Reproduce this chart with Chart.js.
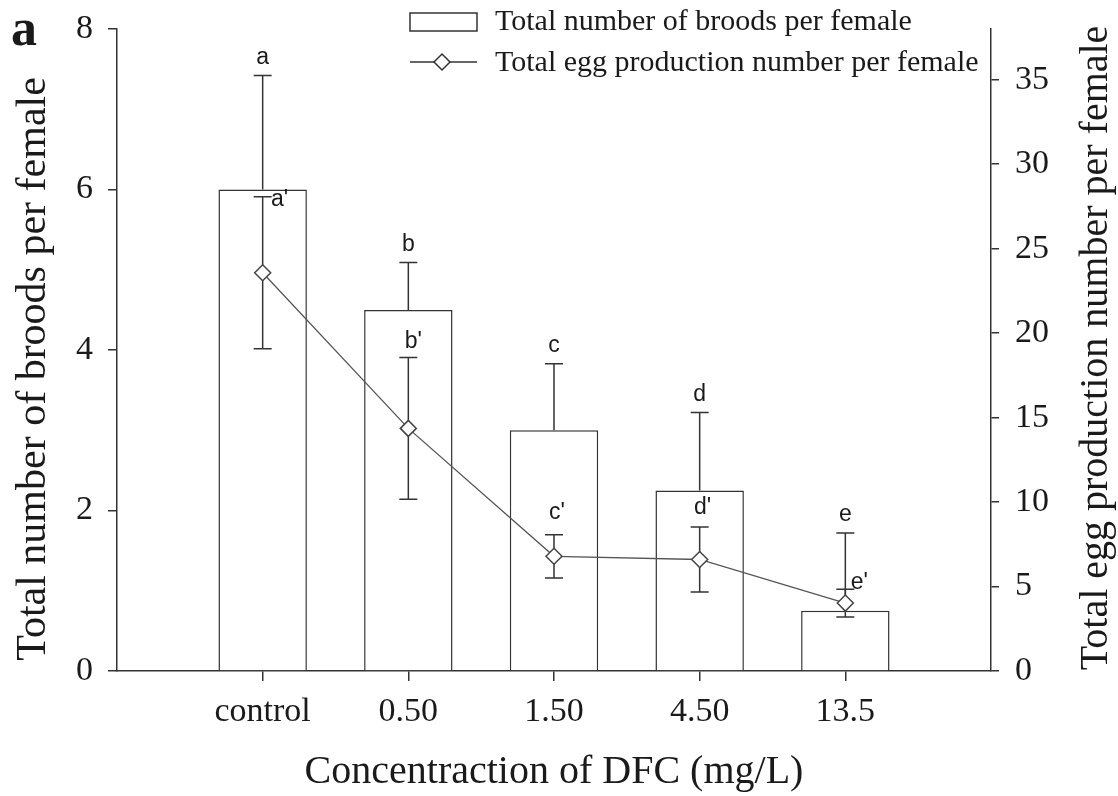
<!DOCTYPE html>
<html>
<head>
<meta charset="utf-8">
<script src="https://cdn.jsdelivr.net/npm/chart.js@4/dist/chart.umd.min.js"></script>
<style>
  body { margin: 0; background: #fff; }
  #wrap { width: 1118px; height: 796px; }
</style>
</head>
<body>
<div id="wrap"><canvas id="broodChart" width="1118" height="796"></canvas></div>
<script>
// Data
const categories = ['control', '0.50', '1.50', '4.50', '13.5'];
const broodMeans = [6.0, 4.5, 3.0, 2.25, 0.75];
const broodErr = [1.42, 0.59, 0.83, 0.97, 0.97];
const eggMeans = [23.57, 14.36, 6.79, 6.6, 4.02];
const eggErr = [4.5, 4.2, 1.28, 1.93, 0.82];
const broodLetters = ['a', 'b', 'c', 'd', 'e'];
const eggLetters = ["a'", "b'", "c'", "d'", "e'"];
const leftTicks = [0, 2, 4, 6, 8];
const rightTicks = [0, 5, 10, 15, 20, 25, 30, 35];

const ink = '#1a1a1a';
const lineCol = '#333';
const serif = '"Liberation Serif", "Times New Roman", serif';
const sans = '"Liberation Sans", Arial, sans-serif';

// error bars go between the bars and the line so the diamonds sit on top
const errorBars = {
    id: 'errorBars',
    afterDatasetDraw(chart, args) {
        if (args.index !== 0) return;
        const ctx = chart.ctx;
        const xs = chart.scales.x, y = chart.scales.y, y1 = chart.scales.y1;
        const cap = 9;
        ctx.save();
        ctx.strokeStyle = lineCol;
        ctx.lineWidth = 1.5;
        broodMeans.forEach((m, i) => {
            const x = xs.getPixelForValue(i + 1);
            const top = y.getPixelForValue(m + broodErr[i]);
            const base = y.getPixelForValue(m);
            ctx.beginPath();
            ctx.moveTo(x, base); ctx.lineTo(x, top);
            ctx.moveTo(x - cap, top); ctx.lineTo(x + cap, top);
            ctx.stroke();
        });
        eggMeans.forEach((m, i) => {
            const x = xs.getPixelForValue(i + 1);
            const hi = y1.getPixelForValue(m + eggErr[i]);
            const lo = y1.getPixelForValue(m - eggErr[i]);
            ctx.beginPath();
            ctx.moveTo(x, lo); ctx.lineTo(x, hi);
            ctx.moveTo(x - cap, hi); ctx.lineTo(x + cap, hi);
            ctx.moveTo(x - cap, lo); ctx.lineTo(x + cap, lo);
            ctx.stroke();
        });
        ctx.restore();
    }
};

// letters, legend, y titles and panel tag
const annotations = {
    id: 'annotations',
    afterDraw(chart) {
        const ctx = chart.ctx;
        const xs = chart.scales.x, y = chart.scales.y, y1 = chart.scales.y1;
        ctx.save();
        ctx.fillStyle = ink;
        ctx.font = '23px ' + sans;
        ctx.textAlign = 'center';
        ctx.textBaseline = 'alphabetic';
        broodLetters.forEach((t, i) => {
            const x = xs.getPixelForValue(i + 1);
            const top = y.getPixelForValue(broodMeans[i] + broodErr[i]);
            ctx.fillText(t, x, top - 12);
        });
        // [dx, dy] from the upper cap
        const primeShift = [[17, 9], [5, -9], [3, -16], [3, -13], [14, 0]];
        eggLetters.forEach((t, i) => {
            const x = xs.getPixelForValue(i + 1);
            const hi = y1.getPixelForValue(eggMeans[i] + eggErr[i]);
            ctx.fillText(t, x + primeShift[i][0], hi + primeShift[i][1]);
        });

        // legend
        ctx.strokeStyle = lineCol;
        ctx.lineWidth = 1.5;
        ctx.fillStyle = '#fff';
        ctx.fillRect(410, 13, 67, 18);
        ctx.strokeRect(410, 13, 67, 18);
        ctx.beginPath();
        ctx.moveTo(410, 62); ctx.lineTo(477, 62);
        ctx.stroke();
        ctx.beginPath();
        ctx.moveTo(442, 54); ctx.lineTo(450, 62); ctx.lineTo(442, 70); ctx.lineTo(434, 62);
        ctx.closePath();
        ctx.fill(); ctx.stroke();
        ctx.fillStyle = ink;
        ctx.font = '30px ' + serif;
        ctx.textAlign = 'left';
        ctx.textBaseline = 'middle';
        ctx.fillText('Total number of broods per female', 495, 22);
        ctx.fillText('Total egg production number per female', 495, 63);

        // y axis titles, both read bottom to top
        ctx.textAlign = 'center';
        [[34, 369, 42, 'Total number of broods per female'],
         [1096, 348, 40, 'Total egg production number per female']].forEach(([tx, ty, fs, s]) => {
            ctx.save();
            ctx.font = fs + 'px ' + serif;
            ctx.translate(tx, ty);
            ctx.rotate(-Math.PI / 2);
            ctx.fillText(s, 0, 0);
            ctx.restore();
        });

        ctx.font = 'bold 52px ' + serif;
        ctx.textAlign = 'left';
        ctx.textBaseline = 'alphabetic';
        ctx.fillText('a', 11, 45);
        ctx.restore();
    }
};

const axisGrid = (len) => ({ drawOnChartArea: false, drawTicks: true, tickLength: len, color: lineCol, lineWidth: 1.5, offset: false });
const axisBorder = { display: true, color: lineCol, width: 1.5 };
const tickFont = { family: serif, size: 34 };

// fixed axis boxes so the plot area lands where it is in the figure
const fitV = (w) => (s) => { s.width = w; s.paddingTop = 0; s.paddingBottom = 0; };
const fitH = (h) => (s) => { s.height = h; s.paddingLeft = 0; s.paddingRight = 0; };

new Chart(document.getElementById('broodChart').getContext('2d'), {
    type: 'bar',
    data: {
        datasets: [
            {
                label: 'Total number of broods per female',
                data: broodMeans.map((v, i) => ({ x: i + 1, y: v })),
                yAxisID: 'y',
                backgroundColor: '#fff',
                borderColor: lineCol,
                borderWidth: 1.5,
                borderSkipped: 'start',
                barPercentage: 0.607,
                categoryPercentage: 1,
                order: 1
            },
            {
                type: 'line',
                label: 'Total egg production number per female',
                data: eggMeans.map((v, i) => ({ x: i + 1, y: v })),
                yAxisID: 'y1',
                borderColor: '#555',
                borderWidth: 1.3,
                pointStyle: 'rectRot',
                pointRadius: 8,
                pointBackgroundColor: '#fff',
                pointBorderColor: '#444',
                pointBorderWidth: 1.5,
                tension: 0,
                order: 0
            }
        ]
    },
    options: {
        responsive: false,
        animation: false,
        layout: { padding: { top: 29, left: 0, right: 0, bottom: 0 } },
        plugins: { legend: { display: false }, tooltip: { enabled: false } },
        scales: {
            x: {
                type: 'linear',
                min: 0,
                max: 6,
                offset: false,
                afterBuildTicks: (s) => { s.ticks = categories.map((c, i) => ({ value: i + 1 })); },
                afterFit: fitH(125),
                grid: axisGrid(10),
                border: axisBorder,
                ticks: {
                    font: tickFont,
                    color: ink,
                    padding: 11,
                    maxRotation: 0,
                    callback: (v) => categories[v - 1]
                },
                title: {
                    display: true,
                    text: 'Concentraction of DFC (mg/L)',
                    font: { family: serif, size: 40 },
                    color: ink,
                    padding: { top: 0, bottom: 0 }
                }
            },
            y: {
                position: 'left',
                min: 0,
                max: 8,
                afterBuildTicks: (s) => { s.ticks = leftTicks.map(v => ({ value: v })); },
                afterFit: fitV(117),
                grid: axisGrid(9),
                border: axisBorder,
                ticks: { font: tickFont, color: ink, padding: 15 }
            },
            y1: {
                position: 'right',
                min: 0,
                max: 38,
                afterBuildTicks: (s) => { s.ticks = rightTicks.map(v => ({ value: v })); },
                afterFit: fitV(127),
                grid: axisGrid(8),
                border: axisBorder,
                ticks: { font: tickFont, color: ink, padding: 16 }
            }
        }
    },
    plugins: [errorBars, annotations]
});
</script>
</body>
</html>
